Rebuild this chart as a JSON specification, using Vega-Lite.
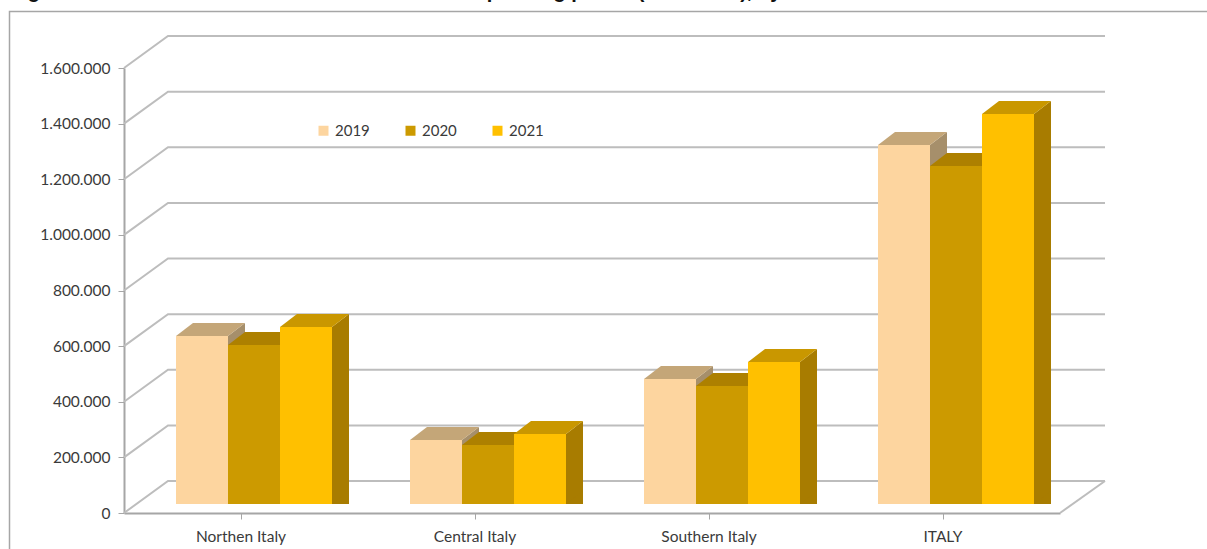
{
"$schema":"https://vega.github.io/schema/vega-lite/v6.json",
"width":936,"height":445,
"autosize":{"type":"none"},
"padding":{"left":124,"top":68,"right":147,"bottom":36},
"background":"white",
"title":{"text":"Figure 1 – Number of entities in the sector in the operating period (2019-2021), by area","anchor":"start","frame":"group","offset":7,"dx":-114,"fontSize":20,"font":"Liberation Sans","fontWeight":"bold","color":"#111111"},
"config":{"view":{"stroke":null},"font":"Lato"},
"datasets":{
"bars":[
{"region":"Northen Italy","year":"2019","value":604000},
{"region":"Northen Italy","year":"2020","value":572000},
{"region":"Northen Italy","year":"2021","value":636000},
{"region":"Central Italy","year":"2019","value":230000},
{"region":"Central Italy","year":"2020","value":212000},
{"region":"Central Italy","year":"2021","value":252000},
{"region":"Southern Italy","year":"2019","value":449000},
{"region":"Southern Italy","year":"2020","value":424000},
{"region":"Southern Italy","year":"2021","value":511000},
{"region":"ITALY","year":"2019","value":1291000},
{"region":"ITALY","year":"2020","value":1215000},
{"region":"ITALY","year":"2021","value":1402000}
],
"ticks":[{"tick":0},{"tick":200000},{"tick":400000},{"tick":600000},{"tick":800000},{"tick":1000000},{"tick":1200000},{"tick":1400000},{"tick":1600000}]
},
"data":{"name":"bars"},
"encoding":{
"x":{"field":"region","type":"nominal","sort":["Northen Italy","Central Italy","Southern Italy","ITALY"],"scale":{"paddingInner":0,"paddingOuter":0},"axis":{"title":null,"labelAngle":0,"labelFontSize":15.5,"labelColor":"#3a3a3a","labelPadding":10,"tickColor":"#a6a6a6","tickSize":6,"domainColor":"#a6a6a6","domainWidth":2,"grid":false}},
"xOffset":{"field":"year","type":"nominal","scale":{"paddingInner":0,"paddingOuter":0.75,"align":0.6667}},
"y":{"field":"value","type":"quantitative","scale":{"domain":[0,1600000],"nice":false},"axis":{"title":null,"values":[0,200000,400000,600000,800000,1000000,1200000,1400000,1600000],"labelExpr":"replace(format(datum.value,','),regexp(',','g'),'.')","labelFontSize":15.5,"labelColor":"#3a3a3a","labelPadding":8,"tickColor":"#a6a6a6","tickSize":6,"domainColor":"#a6a6a6","domainWidth":2,"grid":false}}
},
"layer":[
{"data":{"name":"ticks"},"transform":[{"filter":"datum.tick===1600000"}],"mark":{"type":"point","shape":"M-582.5,481 L-582.5,-56.5 L615,-56.5","size":4,"filled":false,"stroke":"#a6a6a6","strokeWidth":1.5,"opacity":1},"encoding":{"x":{"value":468},"xOffset":{"value":0},"y":{"field":"tick","type":"quantitative"}}},
{"data":{"name":"ticks"},"mark":{"type":"point","shape":"M-468,0 L-424,-32 L513,-32","size":4,"filled":false,"stroke":"#bdbdbd","strokeWidth":2,"opacity":1},"encoding":{"x":{"value":468},"xOffset":{"value":0},"y":{"field":"tick","type":"quantitative"}}},
{"data":{"name":"ticks"},"transform":[{"filter":"datum.tick===0"}],"mark":{"type":"point","shape":"M468,0 L513,-32","size":4,"filled":false,"stroke":"#bdbdbd","strokeWidth":2,"opacity":1},"encoding":{"x":{"value":468},"xOffset":{"value":0},"y":{"field":"tick","type":"quantitative"}}},
{"transform":[{"filter":"datum.year==='2019'"}],"mark":{"type":"bar","width":17,"yOffset":-9,"y2Offset":-22,"color":"#A68F6B"},"encoding":{"xOffset":{"value":112.5}}},
{"transform":[{"filter":"datum.year==='2020'"}],"mark":{"type":"bar","width":17,"yOffset":-9,"y2Offset":-22,"color":"#A87C00"},"encoding":{"xOffset":{"value":164.5}}},
{"transform":[{"filter":"datum.year==='2021'"}],"mark":{"type":"bar","width":17,"yOffset":-9,"y2Offset":-22,"color":"#A87C00"},"encoding":{"xOffset":{"value":216.5}}},
{"mark":{"type":"point","shape":"M26,-9 L43,-22 L43,-9 Z","size":4,"filled":true,"opacity":1},"encoding":{"color":{"field":"year","type":"nominal","legend":null,"scale":{"domain":["2019","2020","2021"],"range":["#A68F6B","#A87C00","#A87C00"]}}}},
{"mark":{"type":"point","shape":"M26,-9 L43,-22 L26,-22 Z","size":4,"filled":true,"opacity":1},"encoding":{"y":{"datum":0,"type":"quantitative"},"color":{"field":"year","type":"nominal","legend":null,"scale":{"domain":["2019","2020","2021"],"range":["#A68F6B","#A87C00","#A87C00"]}}}},
{"mark":{"type":"point","shape":"M-26,-9 L26,-9 L43,-22 L-9,-22 Z","size":4,"filled":true,"opacity":1},"encoding":{"color":{"field":"year","type":"nominal","legend":null,"scale":{"domain":["2019","2020","2021"],"range":["#C4A678","#AD8000","#C99700"]}}}},
{"mark":{"type":"bar","yOffset":-9,"y2Offset":-9},"encoding":{"color":{"field":"year","type":"nominal","scale":{"domain":["2019","2020","2021"],"range":["#FDD59F","#CC9A00","#FFC000"]},"legend":{"title":null,"orient":"none","legendX":192,"legendY":55,"direction":"horizontal","symbolType":"square","symbolSize":100,"labelFontSize":15,"labelColor":"#3a3a3a","columnPadding":33,"labelOffset":4}}}}
],
"resolve":{"scale":{"color":"independent"}}
}
